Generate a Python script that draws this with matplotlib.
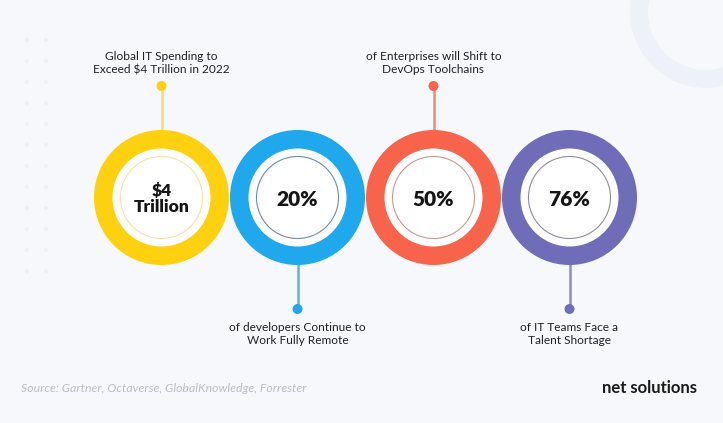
import matplotlib.pyplot as plt
from matplotlib.patches import Circle, Wedge

# stats shown in the rings
values = ['$4\nTrillion', '20%', '50%', '76%']
value_sizes = [12.5, 15, 15, 15]
labels = ['Global IT Spending to\nExceed $4 Trillion in 2022',
          'of developers Continue to\nWork Fully Remote',
          'of Enterprises will Shift to\nDevOps Toolchains',
          'of IT Teams Face a\nTalent Shortage']
label_side = ['top', 'bottom', 'top', 'bottom']
ring_colors = ['#fdd10f', '#1fa8ec', '#f7644b', '#6f6cb8']
stem_colors = ['#f5dc6a', '#5ab4de', '#ec8a78', '#8f8cc0']
inner_colors = ['#efe6a6', '#6d8fa3', '#c99a92', '#8e8e9a']
source = 'Source: Gartner, Octaverse, GlobalKnowledge, Forrester'

W, H = 723, 423
fig = plt.figure(figsize=(W / 100, H / 100), dpi=100)
fig.patch.set_facecolor('#f7f8fc')
ax = fig.add_axes([0, 0, 1, 1])
ax.set_xlim(0, W)
ax.set_ylim(H, 0)
ax.set_aspect('equal')
ax.axis('off')

font = 'Lato'

# faint dot grid on the left
for col in range(2):
    for row in range(12):
        ax.add_patch(Circle((27 + col * 19, 40 + row * 21), 2.2,
                            color='#eff0f4', lw=0))

# faint ring top right
ax.add_patch(Wedge((706, 12), 76, 0, 360, width=18, color='#eef2f8', lw=0))

cy = 197.5
r_out, r_in, r_line = 67.5, 49, 41
for i, (val, lab) in enumerate(zip(values, labels)):
    cx = 161.5 + i * 136
    if label_side[i] == 'top':
        dot_y, ty = 86, 63
        ax.plot([cx, cx], [dot_y, cy - r_out + 2], color=stem_colors[i], lw=1.8, zorder=1)
    else:
        dot_y, ty = 309, 334
        ax.plot([cx, cx], [cy + r_out - 2, dot_y], color=stem_colors[i], lw=1.8, zorder=1)
    ax.add_patch(Circle((cx, dot_y), 5, color=ring_colors[i], lw=0, zorder=2))
    ax.add_patch(Circle((cx, cy), r_out, color=ring_colors[i], lw=0, zorder=2))
    ax.add_patch(Circle((cx, cy), r_in, color='white', lw=0, zorder=3))
    ax.add_patch(Circle((cx, cy), r_line, fill=False, ec=inner_colors[i], lw=0.8, zorder=4))
    ax.text(cx, cy + 1.5, val, ha='center', va='center', fontsize=value_sizes[i],
            fontweight='heavy', family=font, color='#151515', linespacing=0.95, zorder=5)
    ax.text(cx, ty, lab, ha='center', va='center', fontsize=8.6, family=font,
            color='#222222', linespacing=1.3)

ax.text(21, 388, source, ha='left', va='center', fontsize=8.8, style='italic',
        family=font, color='#b9bdc6')
ax.text(649, 388, 'net solutions', ha='center', va='center', fontsize=12,
        family=font, fontweight='bold', color='#1a1a1a')

fig.savefig('out.png', dpi=100, facecolor=fig.get_facecolor())
